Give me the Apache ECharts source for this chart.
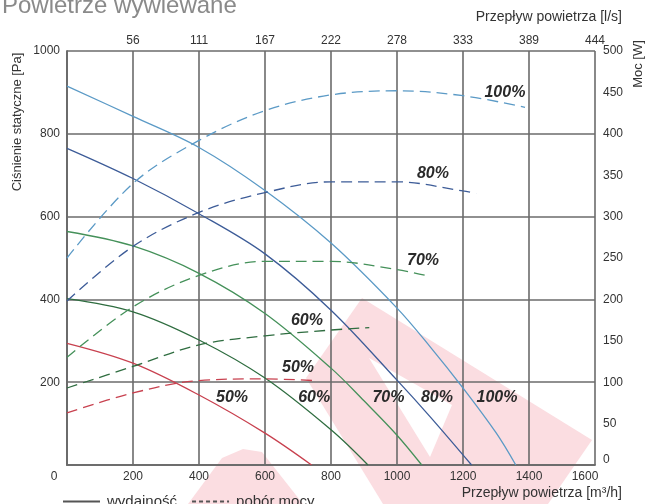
<!DOCTYPE html>
<html>
<head>
<meta charset="utf-8">
<script src="https://cdn.jsdelivr.net/npm/echarts@6/dist/echarts.min.js"></script>
<style>
html,body{margin:0;padding:0;background:#fff;}
#chart{width:648px;height:504px;}
</style>
</head>
<body>
<div id="chart"></div>
<script>
// ---- data (flow in m3/h) ----
// wydajność: static pressure [Pa]
const wyd100X = [0, 200, 400, 600, 800, 1000, 1100, 1200, 1300, 1360];
const wyd100Y = [915, 842, 767, 663, 536, 379, 286, 186, 78, 0];
const wyd80X  = [0, 200, 400, 600, 800, 1000, 1100, 1226];
const wyd80Y  = [765, 692, 607, 510, 374, 205, 117, 0];
const wyd70X  = [0, 200, 400, 600, 800, 900, 1000, 1075];
const wyd70Y  = [564, 529, 463, 366, 234, 155, 72, 0];
const wyd60X  = [0, 200, 400, 600, 800, 912];
const wyd60Y  = [402, 370, 302, 210, 85, 0];
const wyd50X  = [0, 200, 400, 600, 741];
const wyd50Y  = [294, 246, 169, 77, 0];
// pobór mocy: power [W]
const moc100X = [0, 200, 400, 600, 800, 1000, 1200, 1388];
const moc100Y = [250, 340, 392, 428, 447, 452, 446, 432];
const moc80X  = [0, 200, 400, 600, 800, 1000, 1200, 1240];
const moc80Y  = [198, 264, 305, 329, 342, 342, 331, 328];
const moc70X  = [0, 200, 400, 600, 800, 1000, 1086];
const moc70Y  = [130, 191, 229, 246, 246, 236, 229];
const moc60X  = [0, 200, 400, 600, 800, 916];
const moc60Y  = [93, 119, 145, 156, 163, 166];
const moc50X  = [0, 200, 400, 600, 745];
const moc50Y  = [63, 87, 102, 104, 102];

const xTicks = [0, 200, 400, 600, 800, 1000, 1200, 1400, 1600];
const speedLabels = ['100%', '80%', '70%', '60%', '50%'];

const zip = (xs, ys) => xs.map((x, i) => [x, ys[i]]);

const FONT = '"Liberation Sans", Arial, sans-serif';
const GRIDC = '#6b6b6b';
const C100 = '#5b9ac6', C80 = '#3d5c98', C70 = '#45915a', C60 = '#2f6d40', C50 = '#c8414f';

const lblStyle = {show: true, fontSize: 16, fontWeight: 'bold', fontStyle: 'italic',
  color: '#2a2a2a', fontFamily: FONT, position: 'inside'};
function mark(x, y, text) {
  return {symbol: 'circle', symbolSize: 0, silent: true,
    label: lblStyle,
    data: [{coord: [x, y], value: text, label: Object.assign({}, lblStyle, {formatter: text})}]};
}

function solid(name, xs, ys, color, mp) {
  return {type: 'line', name: name, xAxisIndex: 0, yAxisIndex: 0, data: zip(xs, ys),
    smooth: 0.35, symbol: 'none', lineStyle: {color: color, width: 1.3, type: 'solid'},
    itemStyle: {color: color}, markPoint: mp, z: 3};
}
function dashed(name, xs, ys, color, mp) {
  return {type: 'line', name: name, xAxisIndex: 0, yAxisIndex: 1, data: zip(xs, ys),
    smooth: 0.35, symbol: 'none', lineStyle: {color: color, width: 1.3, type: [11, 6]},
    itemStyle: {color: color}, markPoint: mp, z: 3};
}

const chart = echarts.init(document.getElementById('chart'), null, {renderer: 'canvas'});

const option = {
  animation: false,
  backgroundColor: '#ffffff',
  textStyle: {fontFamily: FONT},
  title: {
    text: 'Powietrze wywiewane', left: 2, top: -6, padding: 0,
    textStyle: {fontSize: 24, fontWeight: 'normal', color: '#8a8a8a', fontFamily: FONT}
  },
  legend: {
    data: ['wydajność', 'pobór mocy'],
    left: 62, top: 494, padding: 0, itemWidth: 37, itemHeight: 10, itemGap: 14,
    itemStyle: {opacity: 0},
    textStyle: {fontSize: 15, color: '#333', fontFamily: FONT, padding: [0, 0, 0, 2]}
  },
  grid: {left: 67, right: 53, top: 51, bottom: 39, containLabel: false, outerBoundsMode: 'none'},
  graphic: [
    {type: 'polygon', z: -10, silent: true,
      shape: {points: [[306, 378], [362, 298], [592, 440], [548, 504], [383, 504]]},
      style: {fill: '#fbdde1'}},
    {type: 'polygon', z: -9, silent: true,
      shape: {points: [[369, 358], [430, 457], [452, 405]]},
      style: {fill: '#ffffff'}},
    {type: 'polygon', z: -10, silent: true,
      shape: {points: [[188, 504], [222, 458], [243, 449], [262, 452], [303, 504]]},
      style: {fill: '#fbdde1'}},
    {type: 'text', silent: true, x: 17, y: 122, rotation: Math.PI / 2,
      style: {text: 'Ciśnienie statyczne [Pa]', fontSize: 13, fill: '#333', fontFamily: FONT,
        align: 'center', verticalAlign: 'middle'}},
    {type: 'text', silent: true, x: 638, y: 64, rotation: Math.PI / 2,
      style: {text: 'Moc [W]', fontSize: 13, fill: '#333', fontFamily: FONT,
        align: 'center', verticalAlign: 'middle'}},
    {type: 'text', silent: true, x: 622, y: 17,
      style: {text: 'Przepływ powietrza [l/s]', fontSize: 14, fill: '#333', fontFamily: FONT,
        align: 'right', verticalAlign: 'middle'}}
  ],
  xAxis: [
    {type: 'value', position: 'bottom', min: xTicks[0], max: xTicks[xTicks.length - 1], interval: 200,
      name: 'Przepływ powietrza [m³/h]', nameLocation: 'end', nameGap: 27, nameMoveOverlap: false,
      nameTextStyle: {fontSize: 14, color: '#333', align: 'right', verticalAlign: 'top',
        padding: [21, 0, 0, 0], fontFamily: FONT},
      axisLine: {show: true, lineStyle: {color: GRIDC, width: 1.6}},
      axisTick: {show: false},
      splitLine: {show: true, lineStyle: {color: GRIDC, width: 1.6}},
      axisLabel: {fontSize: 12, color: '#333', margin: 6, fontFamily: FONT,
        formatter: v => v === 0 ? '{l|0}' : (v === 1600 ? '{r|1600}' : String(v)),
        rich: {l: {fontSize: 12, color: '#333', padding: [0, 26, 0, 0]},
               r: {fontSize: 12, color: '#333', padding: [0, 20, 0, 0]}}}
    },
    {type: 'value', position: 'top', min: xTicks[0], max: xTicks[xTicks.length - 1], interval: 200,
      axisLine: {show: true, lineStyle: {color: GRIDC, width: 1.6}},
      axisTick: {show: false},
      splitLine: {show: false},
      axisLabel: {fontSize: 12, color: '#333', margin: 4, showMinLabel: false, fontFamily: FONT,
        formatter: v => String(Math.round(v / 3.6))}
    }
  ],
  yAxis: [
    {type: 'value', position: 'left', min: 0, max: 1000, interval: 200,
      axisLine: {show: true, lineStyle: {color: GRIDC, width: 1.6}},
      axisTick: {show: false},
      splitLine: {show: true, lineStyle: {color: GRIDC, width: 1.6}},
      axisLabel: {fontSize: 12, color: '#333', margin: 7, showMinLabel: false, fontFamily: FONT,
        formatter: v => String(v)}
    },
    {type: 'value', position: 'right', min: 0, max: 500, interval: 50,
      axisLine: {show: true, lineStyle: {color: GRIDC, width: 1.6}},
      axisTick: {show: false},
      splitLine: {show: false},
      axisLabel: {fontSize: 12, color: '#333', margin: 8, fontFamily: FONT,
        formatter: v => v === 0 ? '{z|0}' : String(v),
        rich: {z: {fontSize: 12, color: '#333', padding: [0, 0, 10, 0]}}}
    }
  ],
  series: [
    solid('wydajność 100%', wyd100X, wyd100Y, C100, mark(1303, 162, speedLabels[0])),
    solid('wydajność 80%', wyd80X, wyd80Y, C80, mark(1121, 162, speedLabels[1])),
    solid('wydajność 70%', wyd70X, wyd70Y, C70, mark(974, 162, speedLabels[2])),
    solid('wydajność 60%', wyd60X, wyd60Y, C60, mark(749, 162, speedLabels[3])),
    solid('wydajność 50%', wyd50X, wyd50Y, C50, mark(500, 164, speedLabels[4])),
    dashed('pobór mocy 100%', moc100X, moc100Y, C100, mark(1327, 450, speedLabels[0])),
    dashed('pobór mocy 80%', moc80X, moc80Y, C80, mark(1109, 352, speedLabels[1])),
    dashed('pobór mocy 70%', moc70X, moc70Y, C70, mark(1079, 247, speedLabels[2])),
    dashed('pobór mocy 60%', moc60X, moc60Y, C60, mark(727, 175, speedLabels[3])),
    dashed('pobór mocy 50%', moc50X, moc50Y, C50, mark(700, 118, speedLabels[4])),
    {type: 'line', name: 'wydajność', data: [], symbol: 'none',
      lineStyle: {color: '#555', width: 1.2, type: 'solid'}, itemStyle: {color: '#555'}},
    {type: 'line', name: 'pobór mocy', data: [], symbol: 'none', yAxisIndex: 1,
      lineStyle: {color: '#555', width: 1.2, type: [4, 3]}, itemStyle: {color: '#555'}}
  ]
};
chart.setOption(option);
</script>
</body>
</html>
